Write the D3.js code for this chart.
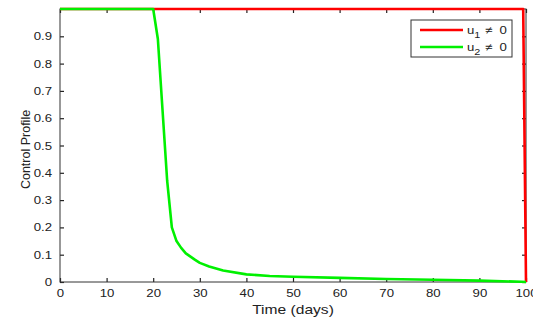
<!DOCTYPE html>
<html>
<head>
<meta charset="utf-8">
<script src="https://cdn.jsdelivr.net/npm/d3@7/dist/d3.min.js"></script>
<style>
  html, body { margin: 0; padding: 0; background: #fff; }
  svg { display: block; }
  text { font-family: "Liberation Sans", Arial, Helvetica, sans-serif; fill: #222; }
</style>
</head>
<body>
<svg id="chart" width="533" height="322"></svg>
<script>
// Control u1: full effort until the very end of the horizon
const u1Days = [0, 99.4, 100];
const u1Values = [1, 1, 0];

// Control u2: switched down after day 20, decaying toward zero
const u2Days = [0, 20, 21, 22, 23, 24, 25, 26, 27, 28, 29, 30, 32, 35, 40, 45, 50, 60, 70, 80, 90, 99, 100];
const u2Values = [1, 1, 0.89, 0.63, 0.37, 0.2, 0.15, 0.125, 0.105, 0.093, 0.081, 0.07, 0.057, 0.042, 0.028, 0.022, 0.019, 0.015, 0.011, 0.008, 0.005, 0.001, 0];

const xTicks = [0, 10, 20, 30, 40, 50, 60, 70, 80, 90, 100];
const yTicks = [0, 0.1, 0.2, 0.3, 0.4, 0.5, 0.6, 0.7, 0.8, 0.9];

const seriesNames = ["u1", "u2"];
const seriesColors = ["#ff0000", "#00f000"];

const margin = { left: 60, right: 7, top: 9, bottom: 40 };
const W = 533, H = 322;
const svg = d3.select("#chart");
const x = d3.scaleLinear().domain([0, 100]).range([margin.left, W - margin.right]);
const y = d3.scaleLinear().domain([0, 1]).range([H - margin.bottom, margin.top]);

const stretch = "scale(1.2,1)";

// Axes with inward ticks on all four sides
const gx = svg.append("g").attr("transform", `translate(0,${y(0)})`)
  .call(d3.axisBottom(x).tickValues(xTicks).tickSizeInner(-4).tickSizeOuter(0).tickPadding(7));
const gy = svg.append("g").attr("transform", `translate(${x(0)},0)`)
  .call(d3.axisLeft(y).tickValues(yTicks).tickSizeInner(-4).tickSizeOuter(0).tickPadding(8)
    .tickFormat(d => d === 0 ? "0" : d3.format(".1f")(d)));
const gt = svg.append("g").attr("transform", `translate(0,${y(1)})`)
  .call(d3.axisTop(x).tickValues(xTicks).tickSizeInner(-4).tickSizeOuter(0).tickFormat(""));
const gr = svg.append("g").attr("transform", `translate(${x(100)},0)`)
  .call(d3.axisRight(y).tickValues(yTicks).tickSizeInner(-4).tickSizeOuter(0).tickFormat(""));

[gx, gy, gt, gr].forEach(g => {
  g.select(".domain").remove();
  g.selectAll(".tick line").attr("stroke", "#222").attr("stroke-width", 1.2);
  g.selectAll(".tick text").attr("font-size", 11).style("font-family", "Liberation Sans, Arial, sans-serif").attr("fill", "#222");
});
gx.selectAll(".tick text").each(function () {
  const t = d3.select(this);
  const yy = +t.attr("y");
  t.attr("y", 0).attr("transform", `translate(0,${yy}) ${stretch}`);
});
gy.selectAll(".tick text").each(function () {
  const t = d3.select(this);
  const xx = +t.attr("x");
  t.attr("x", 0).attr("transform", `translate(${xx},0) ${stretch}`);
});

// Plot box
svg.append("rect")
  .attr("x", x(0)).attr("y", y(1))
  .attr("width", x(100) - x(0)).attr("height", y(0) - y(1))
  .attr("fill", "none").attr("stroke", "#333").attr("stroke-width", 1);

// Series lines
const line = d3.line().x(d => x(d[0])).y(d => y(d[1]));
const u1 = u1Days.map((d, i) => [d, u1Values[i]]);
const u2 = u2Days.map((d, i) => [d, u2Values[i]]);
svg.append("path").datum(u1).attr("d", line)
  .attr("fill", "none").attr("stroke", seriesColors[0]).attr("stroke-width", 2.6).attr("stroke-linejoin", "round");
svg.append("path").datum(u2).attr("d", line)
  .attr("fill", "none").attr("stroke", seriesColors[1]).attr("stroke-width", 2.6).attr("stroke-linejoin", "round");

// Axis titles
svg.append("text")
  .attr("transform", `translate(${(x(0) + x(100)) / 2},${H - 8}) ${stretch}`)
  .attr("text-anchor", "middle").attr("font-size", 13).text("Time (days)");
svg.append("text")
  .attr("transform", `translate(30,${(y(0) + y(1)) / 2 + 4}) rotate(-90)`)
  .attr("text-anchor", "middle").attr("font-size", 12.5).text("Control Profile");

// Legend
const lg = svg.append("g").attr("transform", "translate(411,20)");
lg.append("rect").attr("width", 101).attr("height", 37)
  .attr("fill", "#fff").attr("stroke", "#333").attr("stroke-width", 1);
seriesNames.forEach((name, i) => {
  const ly = 10 + i * 17;
  lg.append("line").attr("x1", 9).attr("x2", 52).attr("y1", ly).attr("y2", ly)
    .attr("stroke", seriesColors[i]).attr("stroke-width", 2.6);
  const t = lg.append("text").attr("transform", `translate(56,${ly + 4}) ${stretch}`)
    .attr("font-size", 11);
  t.append("tspan").text(name[0]);
  t.append("tspan").attr("dy", 4).attr("font-size", 9).text(name.slice(1));
  t.append("tspan").attr("dy", -4).attr("x", 15).text("≠");
  t.append("tspan").attr("x", 27).text("0");
});
</script>
</body>
</html>
